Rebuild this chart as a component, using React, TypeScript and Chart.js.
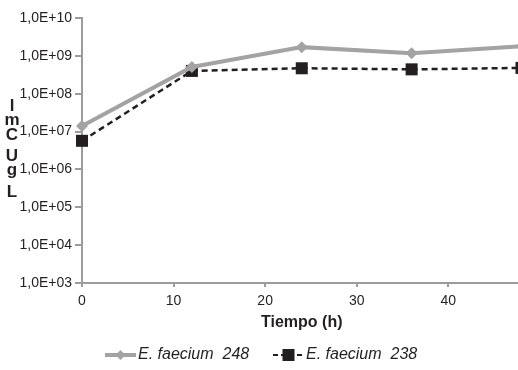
import React, { useEffect, useRef } from 'react';
import { Chart, registerables } from 'chart.js';

Chart.register(...registerables);

const times = [0, 12, 24, 36, 48];
const seriesNames = ['E. faecium  248', 'E. faecium  238'];
const faecium248 = [1.4e7, 5.1e8, 1.7e9, 1.17e9, 1.8e9];
const faecium238 = [5.7e6, 4.0e8, 4.7e8, 4.4e8, 4.8e8];
const xTickValues = [0, 10, 20, 30, 40];
const yTickValues = [1e3, 1e4, 1e5, 1e6, 1e7, 1e8, 1e9, 1e10];
const yTitleChars = ['l', 'm', 'C', 'U', 'g', 'L'];
const xTitle = 'Tiempo (h)';

const GRAY = '#a3a3a3';
const AXIS = '#9c9c9c';
const BLACK = '#231f20';
const FONT = "'Liberation Sans', Arial, sans-serif";

const fmt = (v: number) => {
  const e = Math.round(Math.log10(v));
  return '1,0E+' + String(e).padStart(2, '0');
};

const overlayPlugin = {
  id: 'overlay',
  afterDraw(chart: any) {
    const ctx = chart.ctx;
    ctx.save();
    // garbled vertical y-axis title characters
    ctx.fillStyle = BLACK;
    ctx.font = `bold 17px ${FONT}`;
    ctx.textAlign = 'center';
    ctx.textBaseline = 'alphabetic';
    const baselines = [111, 125, 140, 161, 175, 197];
    yTitleChars.forEach((c, i) => ctx.fillText(c, 12, baselines[i]));

    // legend
    const cy = 355;
    const items = [
      { x0: 105, color: GRAY, dash: [] as number[], width: 4, marker: 'diamond' },
      { x0: 273, color: BLACK, dash: [5, 3], width: 2, marker: 'square' },
    ];
    items.forEach((it, i) => {
      ctx.strokeStyle = it.color;
      ctx.lineWidth = it.width;
      ctx.setLineDash(it.dash);
      ctx.beginPath();
      ctx.moveTo(it.x0, cy);
      ctx.lineTo(it.x0 + 31, cy);
      ctx.stroke();
      ctx.setLineDash([]);
      ctx.fillStyle = it.color;
      const mx = it.x0 + 15.5;
      if (it.marker === 'diamond') {
        ctx.beginPath();
        ctx.moveTo(mx, cy - 5);
        ctx.lineTo(mx + 5, cy);
        ctx.lineTo(mx, cy + 5);
        ctx.lineTo(mx - 5, cy);
        ctx.closePath();
        ctx.fill();
      } else {
        ctx.fillRect(mx - 6, cy - 6, 12, 12);
      }
      ctx.fillStyle = BLACK;
      ctx.font = `italic 16px ${FONT}`;
      ctx.textAlign = 'left';
      ctx.textBaseline = 'middle';
      ctx.fillText(seriesNames[i], it.x0 + 33, cy);
    });
    ctx.restore();
  },
};

export default function App() {
  const ref = useRef<HTMLCanvasElement | null>(null);
  useEffect(() => {
    if (!ref.current) return;
    const chart = new Chart(ref.current, {
      type: 'line',
      data: {
        datasets: [
          {
            label: seriesNames[0],
            data: times.map((t, i) => ({ x: t, y: faecium248[i] })),
            borderColor: GRAY,
            backgroundColor: GRAY,
            borderWidth: 4,
            pointStyle: 'rectRot',
            pointRadius: 6,
            pointBorderWidth: 0,
            pointBackgroundColor: GRAY,
            tension: 0,
            clip: false as any,
          },
          {
            label: seriesNames[1],
            data: times.map((t, i) => ({ x: t, y: faecium238[i] })),
            borderColor: BLACK,
            backgroundColor: BLACK,
            borderWidth: 2.5,
            borderDash: [6, 4],
            pointStyle: 'rect',
            pointRadius: 8.5,
            pointBorderWidth: 0,
            pointBackgroundColor: BLACK,
            tension: 0,
            clip: false as any,
          },
        ],
      },
      options: {
        animation: false,
        responsive: true,
        maintainAspectRatio: false,
        layout: { padding: { left: 0, right: 6, top: 18, bottom: 35 } },
        plugins: {
          legend: { display: false },
          tooltip: { enabled: false },
        },
        scales: {
          x: {
            type: 'linear',
            min: 0,
            max: 48,
            afterBuildTicks: (s: any) => {
              s.ticks = xTickValues.map((v) => ({ value: v }));
            },
            afterFit: (s: any) => {
              s.height = 52;
            },
            grid: {
              drawOnChartArea: false,
              drawTicks: true,
              tickLength: 4,
              color: AXIS,
              lineWidth: 2,
            },
            border: { color: AXIS, width: 2 },
            ticks: {
              color: BLACK,
              font: { family: FONT, size: 14 },
              padding: 6,
              maxRotation: 0,
            },
            title: {
              display: true,
              text: xTitle,
              color: BLACK,
              font: { family: FONT, size: 16, weight: 'bold' },
              padding: { top: 4, bottom: 3 },
            },
          },
          y: {
            type: 'logarithmic',
            min: 1e3,
            max: 1e10,
            afterBuildTicks: (s: any) => {
              s.ticks = yTickValues.map((v) => ({ value: v }));
            },
            afterFit: (s: any) => {
              s.width = 82;
            },
            grid: {
              drawOnChartArea: false,
              drawTicks: true,
              tickLength: 7,
              color: AXIS,
              lineWidth: 2,
            },
            border: { color: AXIS, width: 2 },
            ticks: {
              color: BLACK,
              font: { family: FONT, size: 14 },
              padding: 3,
              callback: (v: any) => fmt(Number(v)),
            },
          },
        },
      },
      plugins: [overlayPlugin],
    });
    return () => chart.destroy();
  }, []);

  return (
    <div style={{ position: 'fixed', left: 0, top: 0, width: 518, height: 370, overflow: 'hidden', background: '#fff' }}>
      <div style={{ position: 'relative', width: 530, height: 370 }}>
        <canvas ref={ref} />
      </div>
    </div>
  );
}
